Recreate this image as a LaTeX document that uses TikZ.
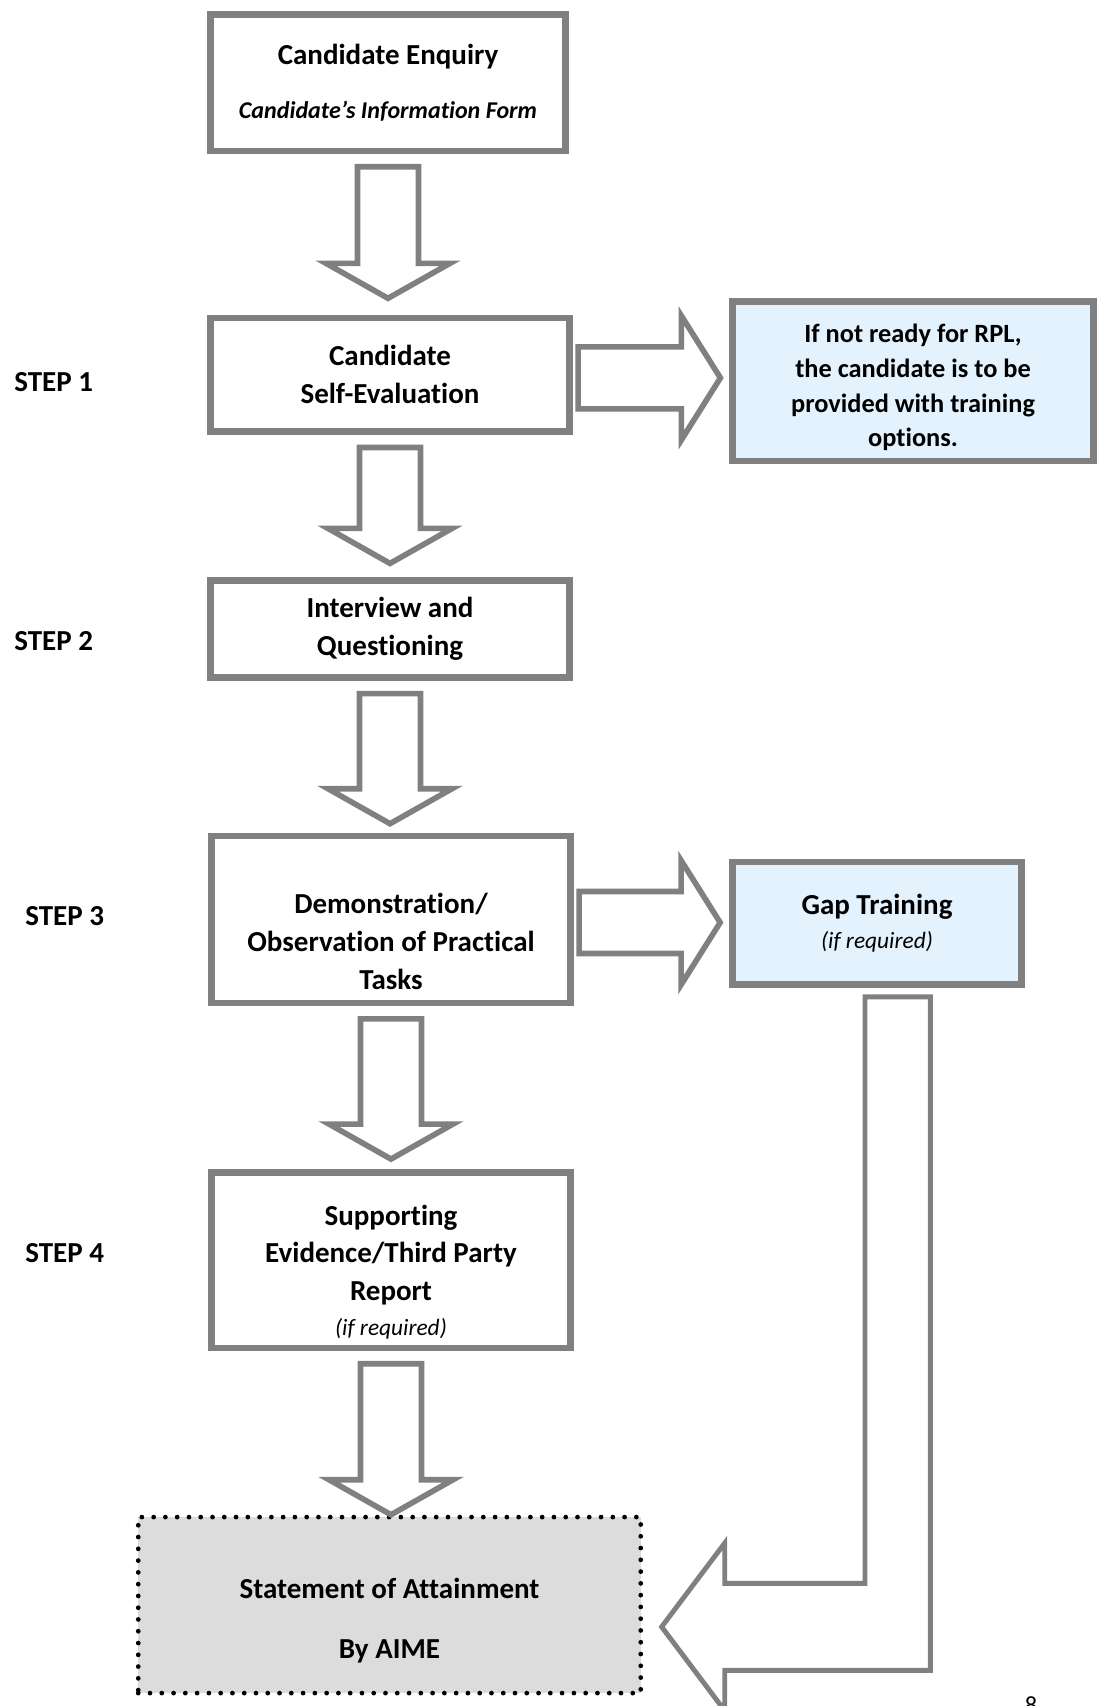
\documentclass[tikz,border=0pt]{standalone}
\usepackage{fontspec}
\setmainfont{Carlito}[Ligatures={NoCommon}]
\usepackage{tikz}
\usetikzlibrary{positioning,calc}
\definecolor{frame}{HTML}{808080}
\definecolor{paleblue}{HTML}{E3F2FD}
\definecolor{palegray}{HTML}{DCDCDC}
\newcommand{\Sw}{0.61cm}
\newcommand{\Hw}{1.24cm}
\newcommand{\Hl}{0.70cm}
\newcommand{\padtop}[1]{\rule{0pt}{#1}}
\newcommand{\notefont}{\itshape\mdseries\fontsize{13.3}{16}\selectfont}
% block arrow pointing down: from, to, gap left above the tip
\newcommand{\downblock}[3]{%
  \draw[blockarrow] let \p1=($(#1.south)+(0,-0.25)$), \p2=($(#2.north)+(0,#3)$) in
    (\x1-\Sw,\y1) -- (\x1+\Sw,\y1) -- (\x1+\Sw,\y2+\Hl) -- (\x1+\Hw,\y2+\Hl) -- (\x1,\y2)
    -- (\x1-\Hw,\y2+\Hl) -- (\x1-\Sw,\y2+\Hl) -- cycle;}
% block arrow pointing right: from, to
\newcommand{\rightblock}[2]{%
  \draw[blockarrow] let \p1=($(#1.east)+(0.1,-0.06)$), \p2=($(#2.west)+(-0.18,0)$) in
    (\x1,\y1+0.62cm) -- (\x2-0.78cm,\y1+0.62cm) -- (\x2-0.78cm,\y1+1.24cm) -- (\x2,\y1)
    -- (\x2-0.78cm,\y1-1.24cm) -- (\x2-0.78cm,\y1-0.62cm) -- (\x1,\y1-0.62cm) -- cycle;}

\begin{document}
\begin{tikzpicture}[x=1cm,y=1cm,
  box/.style={draw=frame, line width=3.8pt, fill=white, align=center, inner sep=2pt,
    font=\bfseries\fontsize{16.5}{21.6}\selectfont},
  infobox/.style={box, fill=paleblue},
  finalbox/.style={draw=black, fill=palegray, line width=2.7pt, dash pattern=on 0pt off 6.7pt,
    line cap=round, align=center, inner sep=2pt, font=\bfseries\fontsize{16.5}{21.6}\selectfont},
  blockarrow/.style={draw=frame, line width=3.2pt, fill=white},
  steplabel/.style={anchor=west, inner sep=0pt, font=\bfseries\fontsize{16.5}{20}\selectfont}]
\useasboundingbox (0,0) rectangle (21.96,-34.12);
% ---- main column
\node[box, minimum width=7.10cm, minimum height=2.73cm] (enquiry) at (7.76,-1.654)
  {Candidate Enquiry\\[9.3pt]{\itshape\fontsize{13.7}{15}\selectfont Candidate’s Information Form}};
\node[box, minimum width=7.19cm, minimum height=2.27cm] (selfeval) at (7.80,-7.498)
  {Candidate\\Self-Evaluation};
\node[box, minimum width=7.19cm, minimum height=1.95cm] (interview) at (7.80,-12.58)
  {Interview and\\Questioning};
\node[box, minimum width=7.19cm, minimum height=3.34cm] (demo) at (7.82,-18.391)
  {\padtop{1.27cm}Demonstration/\\Observation of Practical\\Tasks};
\node[box, minimum width=7.19cm, minimum height=3.51cm] (support) at (7.82,-25.203)
  {\padtop{0.88cm}Supporting\\Evidence/Third Party\\Report\\[-1.9pt]{\notefont (if required)}};
\node[finalbox, minimum width=10.05cm, minimum height=3.52cm] (soa) at (7.79,-32.102)
  {\padtop{1.03cm}Statement of Attainment\\[12.4pt]By AIME};
% ---- side boxes
\node[infobox, minimum width=7.21cm, minimum height=3.19cm,
  font=\bfseries\fontsize{15}{19.7}\selectfont] (notready) at (18.26,-7.628)
  {\padtop{0.62cm}If not ready for RPL,\\the candidate is to be\\provided with training\\options.};
\node[infobox, minimum width=5.78cm, minimum height=2.45cm] (gap) at (17.54,-18.467)
  {Gap Training\\[-1.9pt]{\notefont (if required)}};
% ---- step labels
\node[steplabel] (step1) at (0.28,-7.64) {STEP 1};
\node[steplabel] (step2) at (0.28,-12.82) {STEP 2};
\node[steplabel] (step3) at (0.50,-18.33) {STEP 3};
\node[steplabel] (step4) at (0.50,-25.07) {STEP 4};
% ---- block arrows
\downblock{enquiry}{selfeval}{0.33}
\downblock{selfeval}{interview}{0.27}
\downblock{interview}{demo}{0.18}
\downblock{demo}{support}{0.20}
\downblock{support}{soa}{0.0}
\rightblock{selfeval}{notready}
\rightblock{demo}{gap}
% bent arrow: gap training back into the statement
\draw[blockarrow, line width=2.8pt] let \p1=(gap.south), \p2=(soa.east) in
  (\x1-0.24cm,\y1-0.18cm) -- (\x1+1.066cm,\y1-0.18cm) -- (\x1+1.066cm,\y2-1.306cm)
  -- (\x2+1.632cm,\y2-1.306cm) -- (\x2+1.632cm,\y2-2.111cm) -- (\x2+0.37cm,\y2-0.435cm)
  -- (\x2+1.632cm,\y2+1.241cm) -- (\x2+1.632cm,\y2+0.435cm) -- (\x1-0.24cm,\y2+0.435cm) -- cycle;
% ---- page number, cut by the page edge
\node[anchor=base, inner sep=0pt, font=\fontsize{14}{17}\selectfont] (pagenum) at (20.62,-34.27) {8};
\end{tikzpicture}
\end{document}
